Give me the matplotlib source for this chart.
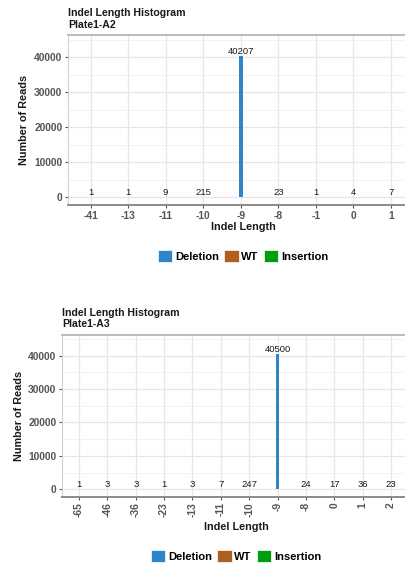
import matplotlib
matplotlib.use("Agg")
import matplotlib.pyplot as plt
from matplotlib.patches import Patch
from matplotlib.ticker import MultipleLocator

# ---- data ----
a2_lengths = ["-41", "-13", "-11", "-10", "-9", "-8", "-1", "0", "1"]
a2_counts = [1, 1, 9, 215, 40207, 23, 1, 4, 7]
a2_types = ["Deletion", "Deletion", "Deletion", "Deletion", "Deletion",
            "Deletion", "Deletion", "WT", "Insertion"]

a3_lengths = ["-65", "-46", "-36", "-23", "-13", "-11", "-10", "-9", "-8", "0", "1", "2"]
a3_counts = [1, 3, 3, 1, 3, 7, 247, 40500, 24, 17, 36, 23]
a3_types = ["Deletion"] * 9 + ["WT", "Insertion", "Insertion"]

y_ticks = [0, 10000, 20000, 30000, 40000]
legend_labels = ["Deletion", "WT", "Insertion"]
type_colors = {"Deletion": "#2E86C8", "WT": "#B0601E", "Insertion": "#009E0F"}

plt.rcParams['font.family'] = ['Liberation Sans', 'DejaVu Sans']

W, H = 406, 566
fig = plt.figure(figsize=(W / 100, H / 100), dpi=100)


def px_axes(left, top, right, bottom):
    return fig.add_axes([left / W, 1 - bottom / H, (right - left) / W, (bottom - top) / H])


def draw_panel(ax, lengths, counts, types, title, rotate, ylab_x, xlab_y, leg_cx, leg_y):
    n = len(lengths)
    xs = list(range(n))
    ax.bar(xs, counts, width=0.1, color=[type_colors[t] for t in types], zorder=3)
    for x, c in zip(xs, counts):
        ax.text(x, c, str(c), ha='center', va='bottom', fontsize=6.8, color='#1a1a1a', zorder=4)
    ax.set_xlim(-0.6, n - 1 + 0.6)
    ax.set_ylim(-2205, 46305)
    ax.set_xticks(xs)
    ax.set_xticklabels(lengths, rotation=90 if rotate else 0)
    ax.set_yticks(y_ticks)
    ax.set_yticklabels([str(v) for v in y_ticks])
    ax.yaxis.set_minor_locator(MultipleLocator(5000))
    ax.grid(True, which='major', color='#E6E6EA', linewidth=0.9, zorder=0)
    ax.grid(True, which='minor', axis='y', color='#F0F0F2', linewidth=0.6, zorder=0)
    ax.set_axisbelow(True)
    for lbl in ax.get_xticklabels() + ax.get_yticklabels():
        lbl.set_fontweight('bold')
        lbl.set_color('#555555')
        lbl.set_fontsize(7.4)
    ax.tick_params(axis='both', which='major', length=2.5, width=0.8, color='#555555', pad=1.5)
    ax.tick_params(axis='both', which='minor', length=0)
    ax.spines['top'].set_color('#BDBDBD')
    ax.spines['top'].set_linewidth(1.4)
    ax.spines['left'].set_color('#D0D0D0')
    ax.spines['left'].set_linewidth(0.8)
    ax.spines['bottom'].set_color('#8A8A8A')
    ax.spines['bottom'].set_linewidth(1.4)
    ax.spines['right'].set_visible(False)
    ax.set_xlabel("Indel Length", fontsize=7.8, fontweight='bold', color='#1a1a1a')
    ax.set_ylabel("Number of Reads", fontsize=7.8, fontweight='bold', color='#1a1a1a')
    bb = ax.get_position()
    ax.yaxis.set_label_coords((ylab_x - bb.x0 * W) / (bb.width * W), 0.5)
    ax.xaxis.set_label_coords((leg_cx - bb.x0 * W) / (bb.width * W),
                              (1 - xlab_y / H - bb.y0) / bb.height)
    ax.xaxis.label.set_va('center')
    t = ax.set_title(title, loc='left', fontsize=7.6, fontweight='bold', color='#1a1a1a',
                     pad=5.2, linespacing=1.18)
    t.set_multialignment('left')
    handles = [Patch(facecolor=type_colors[t], edgecolor='white', linewidth=0.5) for t in legend_labels]
    fig.legend(handles, legend_labels, loc='center', bbox_to_anchor=(leg_cx / W, 1 - leg_y / H),
               ncol=3, frameon=False, handlelength=1.3, handleheight=1.35,
               handletextpad=0.25, columnspacing=0.45,
               prop={'weight': 'bold', 'size': 8, 'family': ['Liberation Sans', 'DejaVu Sans']})
    return ax


ax1 = px_axes(68, 35, 413.6, 205)
draw_panel(ax1, a2_lengths, a2_counts, a2_types, "Indel Length Histogram\nPlate1-A2",
           False, 29, 227, 243, 256)

ax2 = px_axes(62, 334.5, 408, 496.7)
draw_panel(ax2, a3_lengths, a3_counts, a3_types, "Indel Length Histogram\nPlate1-A3",
           True, 24, 527, 236, 556)

fig.savefig("out.png", dpi=100, facecolor='white')
